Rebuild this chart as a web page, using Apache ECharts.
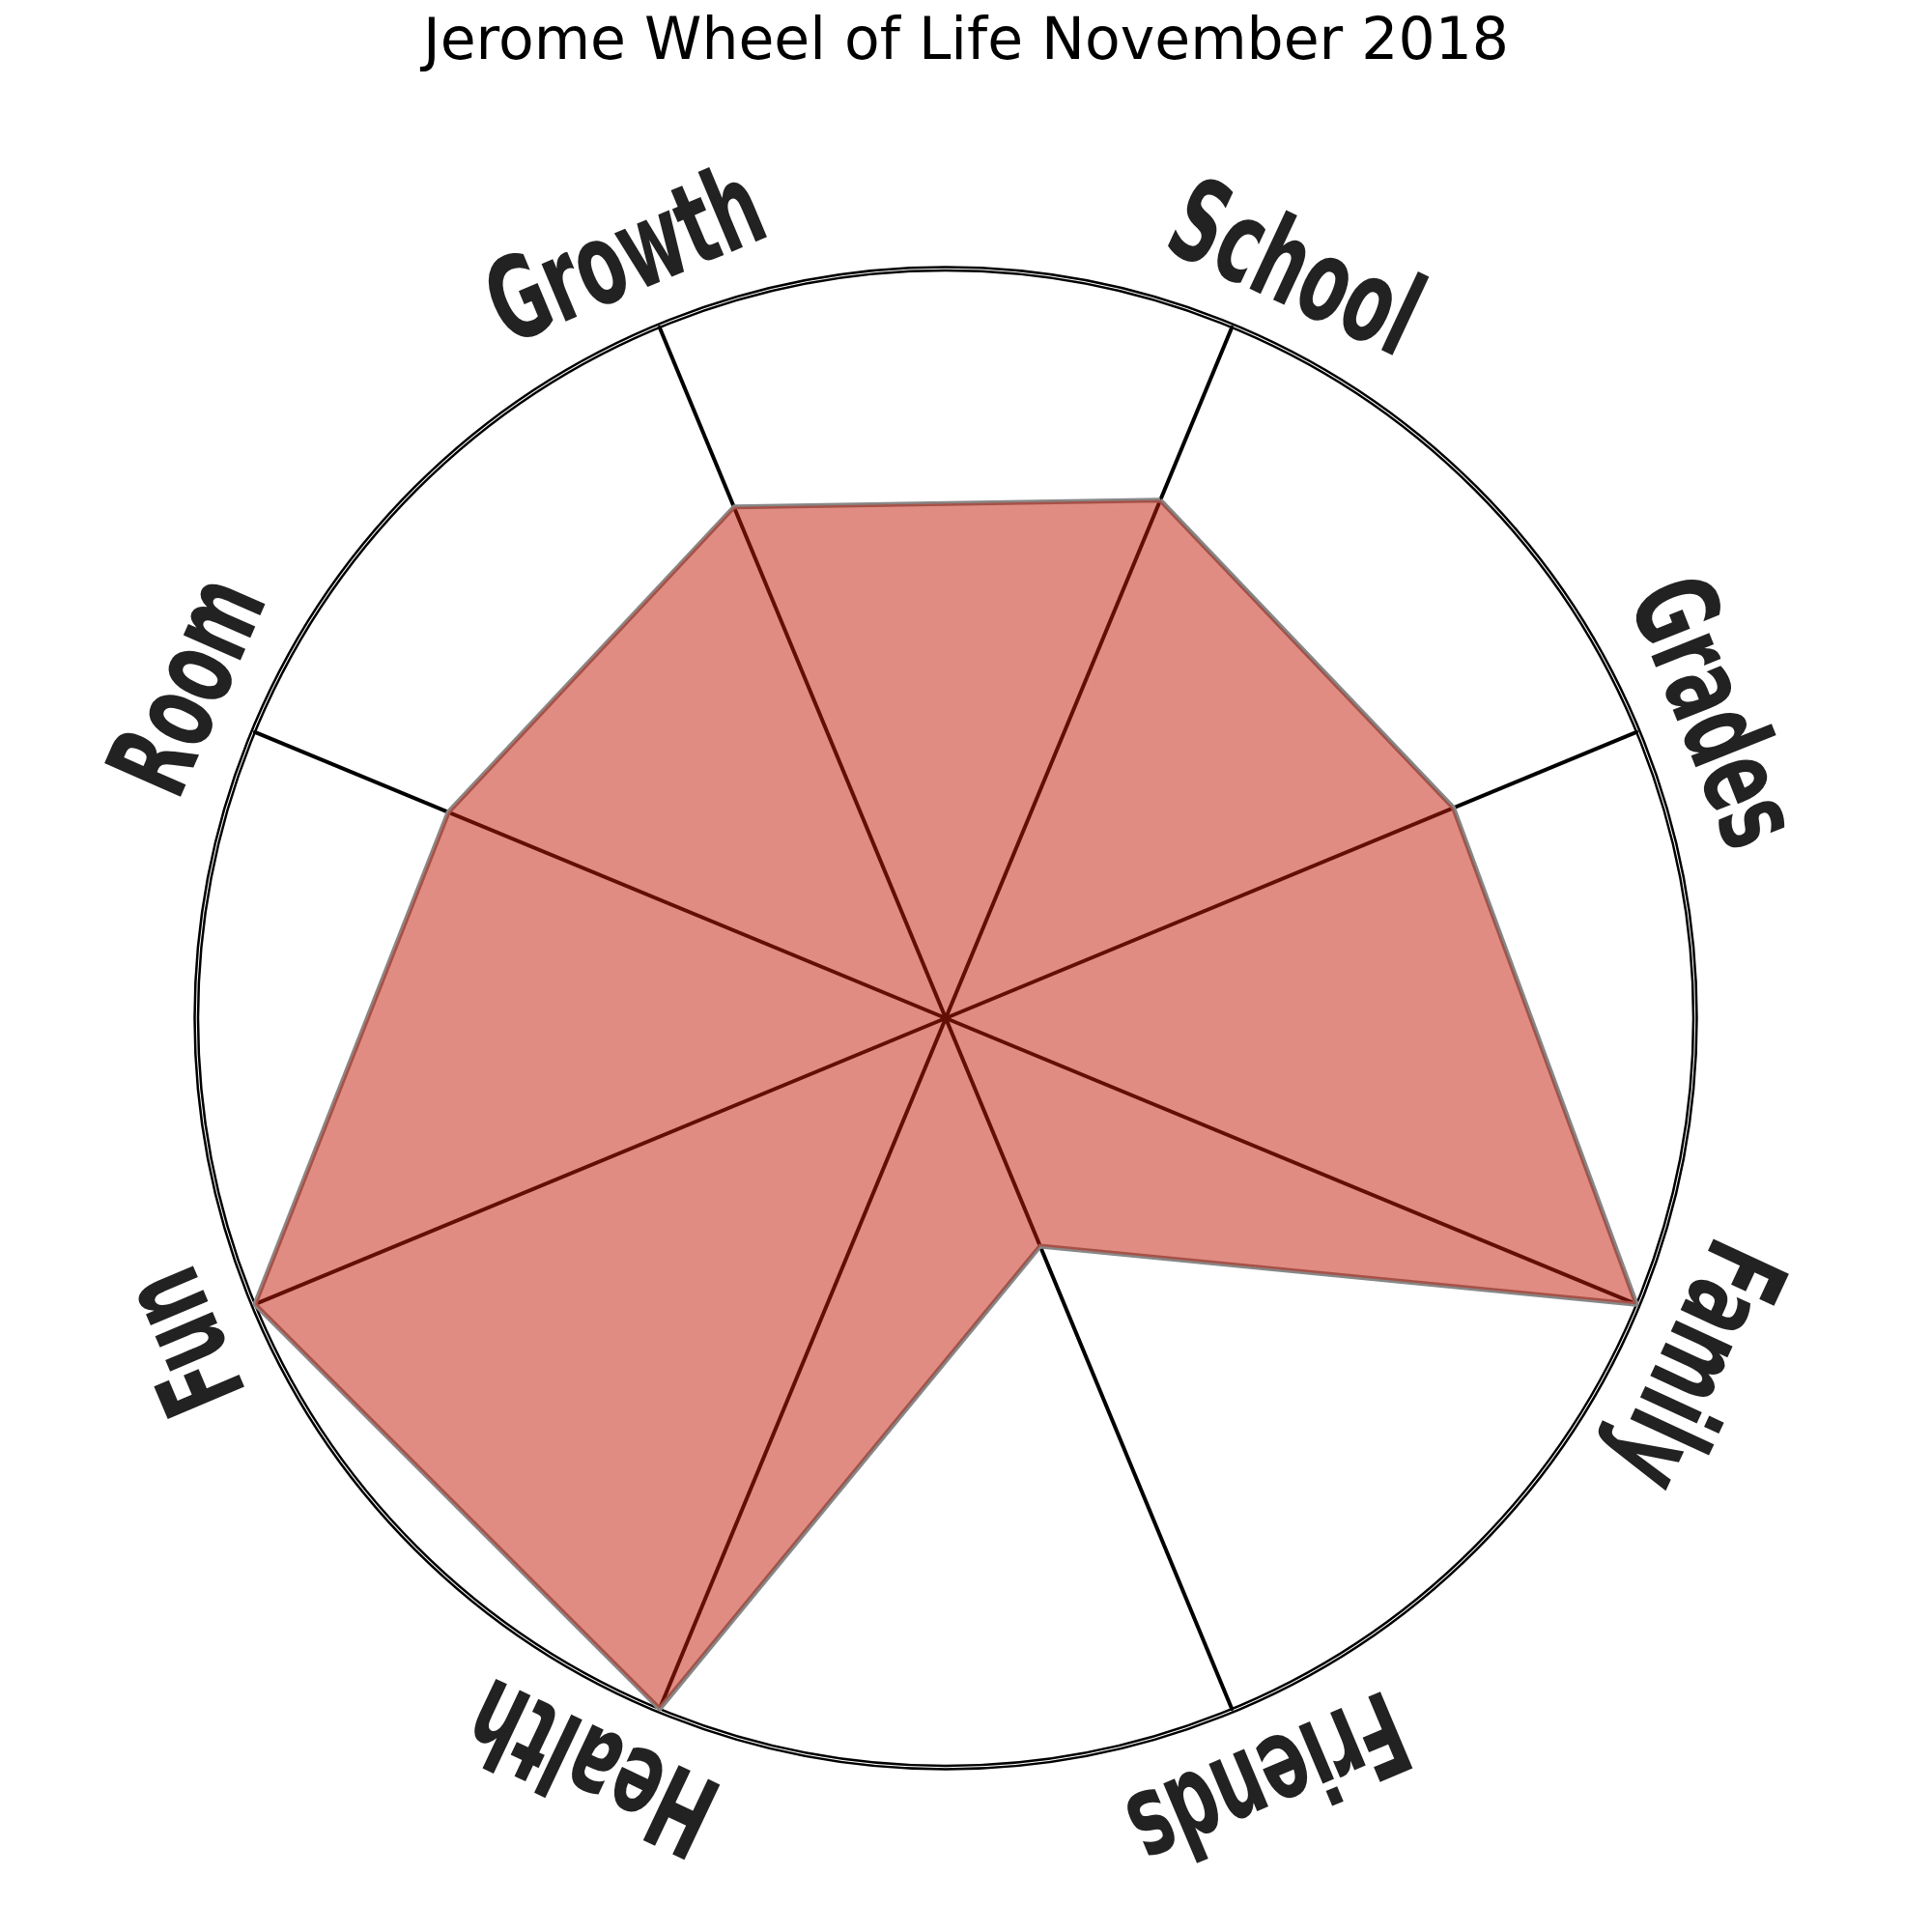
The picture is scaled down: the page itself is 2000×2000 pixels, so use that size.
<!DOCTYPE html>
<html>
<head>
<meta charset="utf-8">
<script src="https://cdn.jsdelivr.net/npm/echarts@6/dist/echarts.min.js"></script>
<style>
html,body{margin:0;padding:0;background:#fff;}
#chart{width:2000px;height:2000px;}
</style>
</head>
<body>
<div id="chart"></div>
<script>
// Categories in clockwise order starting just right of the top
const categories = ['School', 'Grades', 'Family', 'Friends', 'Health', 'Fun', 'Room', 'Growth'];
const scores = [7.5, 7.35, 10, 3.3, 10, 10, 7.2, 7.4];
const maxScore = 10;
const titleText = 'Jerome Wheel of Life November 2018';

// Layout
const CX = 979, CY = 1054, R = 774, LABEL_R = 848;
// small angular nudges (degrees, clockwise) for the label placement
const labelNudge = [2.5, 0.8, 2.3, -0.4, 2.8, -0.5, 1.2, -0.3];

// ECharts radar goes counter-clockwise: keep first, reverse the rest
const order = [0].concat(categories.map((_, i) => i).slice(1).reverse());
const indicator = order.map(i => ({ name: categories[i], max: maxScore, min: 0 }));
const values = order.map(i => scores[i]);

const labelFont = '"Liberation Sans Narrow", "DejaVu Sans Condensed", "DejaVu Sans", sans-serif';
const graphics = categories.map((name, i) => {
  const theta = (22.5 + 45 * i + labelNudge[i]) * Math.PI / 180;
  return {
    type: 'text',
    x: CX + LABEL_R * Math.sin(theta),
    y: CY - LABEL_R * Math.cos(theta),
    rotation: -theta,
    scaleX: 0.68,
    scaleY: 1,
    z: 10,
    style: {
      text: name,
      fill: '#222222',
      font: 'bold 118px ' + labelFont,
      align: 'center',
      verticalAlign: 'middle',
      textAlign: 'center',
      textVerticalAlign: 'middle'
    }
  };
});

const chart = echarts.init(document.getElementById('chart'), null, { renderer: 'canvas' });
chart.setOption({
  backgroundColor: '#ffffff',
  animation: false,
  title: {
    text: titleText,
    left: 'center',
    top: 10,
    textStyle: { fontFamily: 'DejaVu Sans', fontWeight: 'normal', fontSize: 60, color: '#000' }
  },
  radar: [
    {
      center: [CX, CY],
      radius: R,
      startAngle: 67.5,
      shape: 'circle',
      splitNumber: 1,
      indicator: indicator,
      axisName: { show: false },
      axisLine: { show: true, lineStyle: { color: '#000', width: 4 } },
      splitLine: { show: true, lineStyle: { color: '#000', width: 2.5 } },
      splitArea: { show: false },
      axisTick: { show: false },
      axisLabel: { show: false }
    },
    {
      center: [CX, CY],
      radius: R + 3.5,
      startAngle: 67.5,
      shape: 'circle',
      splitNumber: 1,
      indicator: indicator,
      axisName: { show: false },
      axisLine: { show: false },
      splitLine: { show: true, lineStyle: { color: '#000', width: 2.5 } },
      splitArea: { show: false },
      axisTick: { show: false },
      axisLabel: { show: false }
    }
  ],
  series: [{
    type: 'radar',
    radarIndex: 0,
    symbol: 'none',
    lineStyle: { color: '#878787', width: 5 },
    areaStyle: { color: 'rgba(196,30,10,0.51)', opacity: 1 },
    data: [{ value: values, name: 'Jerome' }]
  }],
  graphic: graphics
});
</script>
</body>
</html>
